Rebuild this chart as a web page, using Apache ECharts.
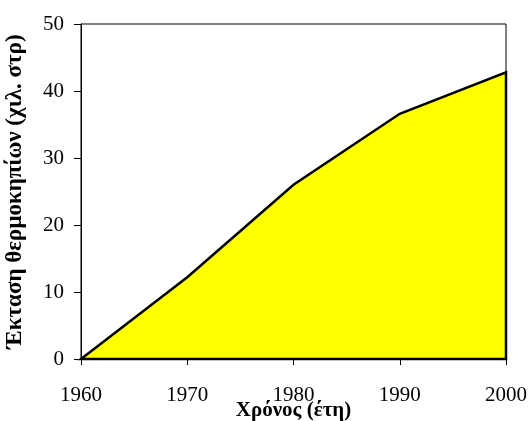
<!DOCTYPE html>
<html>
<head>
<meta charset="utf-8">
<script src="https://cdn.jsdelivr.net/npm/echarts@6/dist/echarts.min.js"></script>
<style>html,body{margin:0;padding:0;background:#fff}#c{width:529px;height:421px}</style>
</head>
<body>
<div id="c"></div>
<script>
var years = [1960, 1970, 1980, 1990, 2000];
var areaValues = [0, 12.2, 26.0, 36.6, 42.8];
var yTicks = [0, 10, 20, 30, 40, 50];
var xTicks = [1960, 1970, 1980, 1990, 2000];
var xName = 'Χρόνος (έτη)';
var yName = 'Έκταση θερμοκηπίων (χιλ. στρ)';

var points = years.map(function (y, i) { return [y, areaValues[i]]; });
var font = '"Liberation Serif", "Times New Roman", serif';

var chart = echarts.init(document.getElementById('c'), null, {renderer: 'canvas'});
chart.setOption({
  animation: false,
  backgroundColor: '#ffffff',
  grid: {left: 81, right: 23, top: 24, bottom: 62, containLabel: false, outerBoundsMode: 'none',
         show: true, borderColor: '#000', borderWidth: 1, backgroundColor: 'transparent'},
  xAxis: {
    type: 'value',
    min: xTicks[0], max: xTicks[xTicks.length - 1], interval: 10,
    name: xName, nameLocation: 'middle', nameGap: 41, nameMoveOverlap: false,
    nameTextStyle: {fontFamily: font, fontWeight: 'bold', fontSize: 21, color: '#000'},
    axisLine: {show: true, lineStyle: {color: '#000', width: 1}},
    axisTick: {show: true, length: 6, lineStyle: {color: '#000'}},
    axisLabel: {fontFamily: font, fontSize: 21, color: '#000', margin: 26, formatter: function (v) { return String(v); }},
    splitLine: {show: false}
  },
  yAxis: {
    type: 'value',
    min: yTicks[0], max: yTicks[yTicks.length - 1], interval: 10,
    name: yName, nameLocation: 'middle', nameGap: 54, nameMoveOverlap: false,
    nameTextStyle: {fontFamily: font, fontWeight: 'bold', fontSize: 23, color: '#000'},
    axisLine: {show: true, lineStyle: {color: '#000', width: 1}},
    axisTick: {show: true, length: 7, lineStyle: {color: '#000'}},
    axisLabel: {fontFamily: font, fontSize: 21, color: '#000', margin: 17, formatter: function (v) { return String(v); }},
    splitLine: {show: false}
  },
  series: [{
    type: 'custom',
    data: points,
    clip: false,
    renderItem: function (params, api) {
      if (params.dataIndex !== 0) return null;
      var pts = points.map(function (p) { return api.coord(p); });
      pts.push(api.coord([years[years.length - 1], 0]));
      pts.push(api.coord([years[0], 0]));
      return {
        type: 'polygon',
        shape: {points: pts},
        style: {fill: '#FFFF00', stroke: '#000', lineWidth: 2.5, lineJoin: 'miter'}
      };
    },
    z: 2
  }]
});
</script>
</body>
</html>
